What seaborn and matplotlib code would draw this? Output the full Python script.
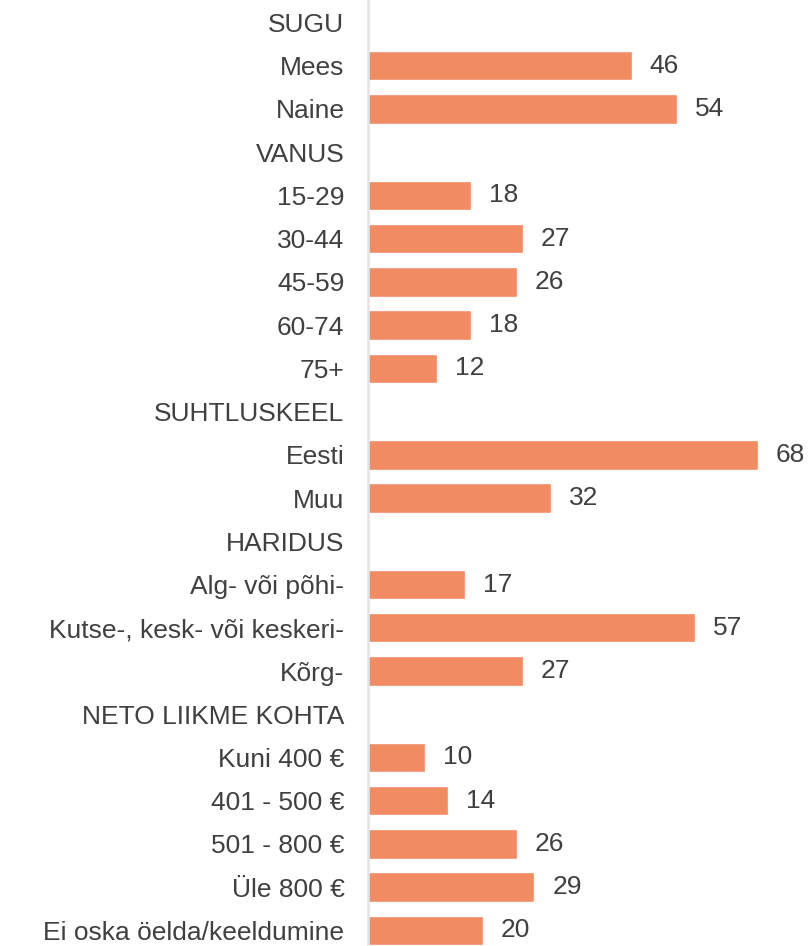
import numpy as np
import pandas as pd
import matplotlib
matplotlib.use("Agg")
import matplotlib.pyplot as plt
import seaborn as sns

# rows in display order; headers have no value
labels = [
    "SUGU", "Mees", "Naine",
    "VANUS", "15-29", "30-44", "45-59", "60-74", "75+",
    "SUHTLUSKEEL", "Eesti", "Muu",
    "HARIDUS", "Alg- või põhi-", "Kutse-, kesk- või keskeri-", "Kõrg-",
    "NETO LIIKME KOHTA", "Kuni 400 €", "401 - 500 €", "501 - 800 €", "Üle 800 €",
    "Ei oska öelda/keeldumine",
]
values = [
    np.nan, 46, 54,
    np.nan, 18, 27, 26, 18, 12,
    np.nan, 68, 32,
    np.nan, 17, 57, 27,
    np.nan, 10, 14, 26, 29, 20,
]

df = pd.DataFrame({"label": labels, "value": values})

sns.set_theme(style="white")
plt.rcParams["font.family"] = ["Liberation Sans", "DejaVu Sans"]
text_color = "#404040"
bar_color = "#F08B62"

fig = plt.figure(figsize=(8.12, 9.46), dpi=100)
ax = fig.add_axes([368 / 812, 0, 444 / 812, 1])

sns.barplot(data=df, x="value", y="label", order=labels, color=bar_color,
            saturation=1, width=0.68, orient="h", ax=ax)

ax.set_xlim(0, 77.5)
ax.set_ylim(21.36, -0.52)
ax.set_xlabel("")
ax.set_ylabel("")
ax.set_xticks([])
ax.tick_params(axis="y", length=0, pad=17, labelsize=19, labelcolor=text_color)

for side in ["top", "right", "bottom"]:
    ax.spines[side].set_visible(False)
ax.spines["left"].set_color("#e3e3e3")
ax.spines["left"].set_linewidth(1.8)

ax.bar_label(ax.containers[0], fmt="%d", padding=13, fontsize=19, color=text_color)

plt.savefig("out.png", dpi=100)
plt.close()
